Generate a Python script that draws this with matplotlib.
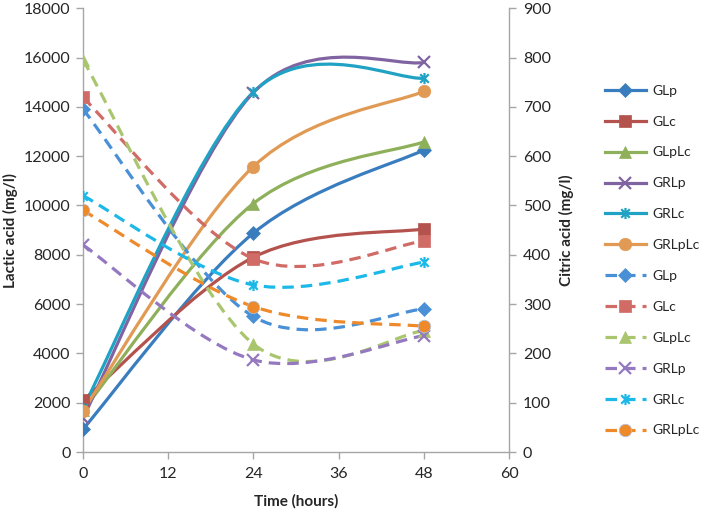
import matplotlib

matplotlib.use("Agg")
import matplotlib.pyplot as plt
import numpy as np
from matplotlib.lines import Line2D
from matplotlib.patches import PathPatch
from matplotlib.path import Path

plt.rcParams["font.family"] = ["Lato", "DejaVu Sans"]

# data
hours = [0, 24, 48]
labels = ["GLp", "GLc", "GLpLc", "GRLp", "GRLc", "GRLpLc"]

# lactic acid (mg/l), left axis, solid lines
lactic_glp = [930, 8880, 12250]
lactic_glc = [2100, 7900, 9050]
lactic_glplc = [1700, 10080, 12580]
lactic_grlp = [1400, 14580, 15800]
lactic_grlc = [1800, 14600, 15160]
lactic_grlplc = [1680, 11580, 14630]

# citric acid (mg/l), right axis, dashed lines
citric_glp = [695, 275, 290]
citric_glc = [719, 392, 428]
citric_glplc = [795, 219, 246]
citric_grlp = [420, 187, 236]
citric_grlc = [520, 339, 385]
citric_grlplc = [490, 295, 255]

lactic = [lactic_glp, lactic_glc, lactic_glplc, lactic_grlp, lactic_grlc, lactic_grlplc]
citric = [citric_glp, citric_glc, citric_glplc, citric_grlp, citric_grlc, citric_grlplc]

solid_colors = ["#3a7dbf", "#b4524d", "#8fb05a", "#8064a2", "#1fa2c3", "#e19a54"]
dash_colors = ["#4a90d6", "#d06b66", "#a9c66f", "#9479c0", "#1cb9e8", "#ef8a2a"]

# Excel style asterisk: x plus a vertical bar
star = Path(
    [(-1, -1), (1, 1), (-1, 1), (1, -1), (0, -1.3), (0, 1.3)],
    [Path.MOVETO, Path.LINETO, Path.MOVETO, Path.LINETO, Path.MOVETO, Path.LINETO],
)
markers = ["D", "s", "^", "x", star, "o"]
msizes = [7, 9, 9, 8, 8, 9]


def smooth_path(xs, ys):
    # Excel "smoothed line": Catmull-Rom segments as cubic Bezier
    pts = np.column_stack([xs, ys]).astype(float)
    n = len(pts)
    verts = [pts[0]]
    codes = [Path.MOVETO]
    for i in range(n - 1):
        p0 = pts[i - 1] if i > 0 else pts[i]
        p1 = pts[i]
        p2 = pts[i + 1]
        p3 = pts[i + 2] if i + 2 < n else pts[i + 1]
        verts += [p1 + (p2 - p0) / 6, p2 - (p3 - p1) / 6, p2]
        codes += [Path.CURVE4] * 3
    return Path(verts, codes)


fig = plt.figure(figsize=(7.09, 5.12), dpi=100)
ax = fig.add_axes([0.117, 0.117, 0.601, 0.867])
ax2 = ax.twinx()

text_c = "#262626"
grey = "#a6a6a6"
lw = 2.3
dash = (0, (3.6, 2.2))

handles = []
for vals, col, mk, ms, lab in zip(lactic, solid_colors, markers, msizes, labels):
    ax.add_patch(PathPatch(smooth_path(hours, vals), fill=False, edgecolor=col,
                           lw=lw, zorder=2, capstyle="round"))
    mew = 1.6 if mk in ("x",) or mk is star else 0.5
    ax.plot(hours, vals, ls="none", marker=mk, ms=ms, color=col, mec=col, mew=mew, zorder=3)
    handles.append(Line2D([], [], color=col, lw=lw, marker=mk, ms=ms, mec=col, mew=mew, label=lab))

for vals, col, mk, ms, lab in zip(citric, dash_colors, markers, msizes, labels):
    ax2.add_patch(PathPatch(smooth_path(hours, vals), fill=False, edgecolor=col,
                            lw=lw, ls=dash, zorder=2))
    mew = 1.6 if mk in ("x",) or mk is star else 0.5
    mec = "#a9c4e8" if mk == "o" else col
    ax2.plot(hours, vals, ls="none", marker=mk, ms=ms, color=col, mec=mec, mew=mew, zorder=3)
    handles.append(Line2D([], [], color=col, lw=lw, ls=dash, marker=mk, ms=ms,
                          mec=mec, mew=mew, label=lab))

ax.set_xlim(0, 60)
ax.set_ylim(0, 18000)
ax2.set_ylim(0, 900)
ax.set_xticks(np.arange(0, 61, 12))
ax.set_yticks(np.arange(0, 18001, 2000))
ax2.set_yticks(np.arange(0, 901, 100))

for a in (ax, ax2):
    for s in a.spines.values():
        s.set_color(grey)
        s.set_linewidth(1.0)
    a.spines["top"].set_visible(False)
    a.tick_params(colors=grey, labelcolor=text_c, labelsize=11.5, length=5, width=1.0)
ax.spines["right"].set_visible(False)
ax2.spines["left"].set_visible(False)
ax2.spines["bottom"].set_visible(False)
ax.tick_params(axis="x", pad=6)
ax.tick_params(axis="y", pad=4)
ax2.tick_params(axis="y", pad=5)

ax.set_xlabel("Time (hours)", fontsize=11, fontweight="bold", color=text_c, labelpad=9)
ax.set_ylabel("Lactic acid (mg/l)", fontsize=11, fontweight="bold", color=text_c, labelpad=4)
ax2.set_ylabel("Citric acid (mg/l)", fontsize=11, fontweight="bold", color=text_c, labelpad=6)

leg = fig.legend(handles=handles, loc="center left", bbox_to_anchor=(0.845, 0.491),
                 frameon=False, fontsize=10, handlelength=3.0, handletextpad=0.45,
                 labelspacing=1.36, borderaxespad=0)
for t in leg.get_texts():
    t.set_color(text_c)

fig.savefig("out.png", dpi=100)
plt.close(fig)
